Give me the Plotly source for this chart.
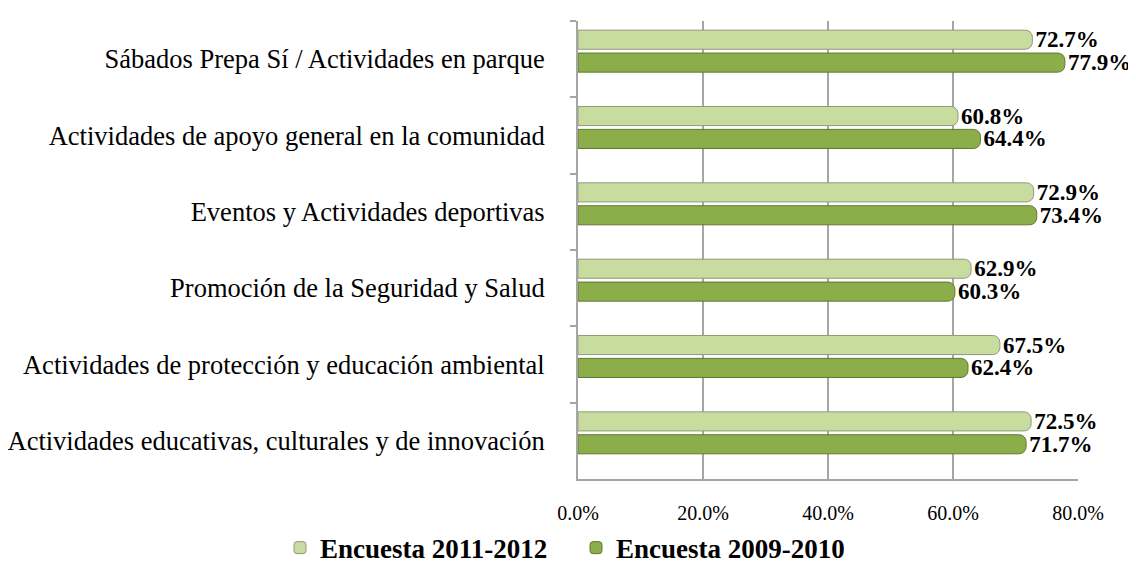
import plotly.graph_objects as go

categories = [
    "Sábados Prepa Sí / Actividades en parque",
    "Actividades de apoyo general en la comunidad",
    "Eventos y Actividades deportivas",
    "Promoción de la Seguridad y Salud",
    "Actividades de protección y educación ambiental",
    "Actividades educativas, culturales y de innovación",
]
s2011 = [72.7, 60.8, 72.9, 62.9, 67.5, 72.5]
s2009 = [77.9, 64.4, 73.4, 60.3, 62.4, 71.7]
series_names = ["Encuesta 2011-2012", "Encuesta 2009-2010"]
tick_vals = [0, 20, 40, 60, 80]
tick_text = ["0.0%", "20.0%", "40.0%", "60.0%", "80.0%"]

FONT = "Liberation Serif, Times New Roman, serif"

fig = go.Figure()
for name, vals, color, edge, leg, off in [
    (series_names[0], s2011, "#c9dc9f", "#8f9a7c", "legend", -0.38),
    (series_names[1], s2009, "#8cae4a", "#5f7a2c", "legend2", -0.08),
]:
    fig.add_trace(go.Bar(
        y=categories, x=vals, name=name, orientation="h", legend=leg,
        offset=off, width=0.25,
        marker=dict(color=color, line=dict(color=edge, width=1), cornerradius=7),
        text=[f"{v:.1f}%" for v in vals], textposition="outside",
        textfont=dict(family=FONT, size=23, color="black", weight="bold"),
        constraintext="none", cliponaxis=False,
    ))

legend_common = dict(
    orientation="h", xref="container", yref="container", xanchor="left",
    y=0.039, yanchor="middle",
    font=dict(family=FONT, size=27, color="black", weight="bold"),
    itemwidth=30, bgcolor="rgba(0,0,0,0)",
)
fig.update_layout(
    width=1136, height=562,
    margin=dict(l=570, r=66, t=13, b=91, autoexpand=False),
    paper_bgcolor="white", plot_bgcolor="white",
    barmode="overlay",
    font=dict(family=FONT, color="black"),
    showlegend=True,
    legend=dict(x=272 / 1136, **legend_common),
    legend2=dict(x=568 / 1136, **legend_common),
)
fig.update_xaxes(
    range=[0, 80], tickvals=tick_vals, ticktext=tick_text,
    tickfont=dict(family=FONT, size=20), showgrid=True, gridcolor="#a6a6a6", gridwidth=1.5,
    zeroline=False, showline=True, linecolor="#a6a6a6", linewidth=1.5, ticks="", ticklen=0,
    ticklabelstandoff=15,
)
fig.update_yaxes(
    autorange="reversed", tickfont=dict(family=FONT, size=26.5),
    showline=True, linecolor="#a6a6a6", linewidth=2, ticks="outside", tickson="boundaries",
    ticklen=6, tickcolor="#a6a6a6", tickwidth=2, showgrid=False, ticklabelstandoff=26,
)
fig.write_html("out.html")
